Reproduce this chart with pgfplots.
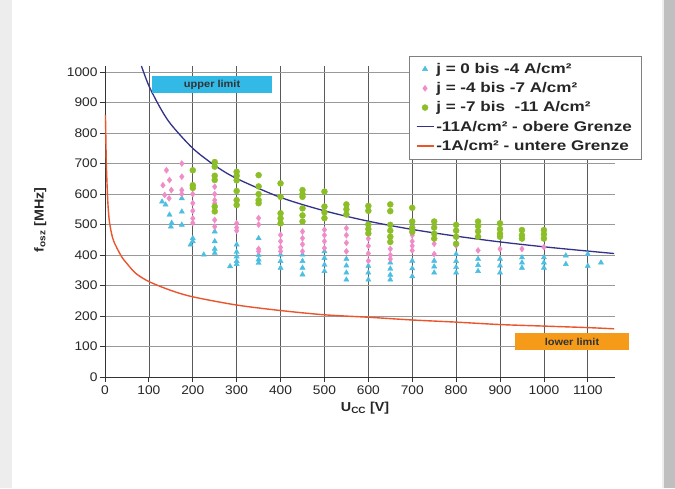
\documentclass[border=0pt]{standalone}
\usepackage{fontspec}
\setmainfont{Liberation Sans}[FakeStretch=1.1]
\newfontfamily\legfont{Liberation Sans}[FakeStretch=1.22]
\usepackage{pgfplots}
\pgfplotsset{compat=1.18}

\definecolor{cyanM}{RGB}{75,190,225}
\definecolor{pinkM}{RGB}{240,140,200}
\definecolor{greenM}{RGB}{140,190,40}
\definecolor{upperC}{RGB}{50,50,140}
\definecolor{lowerC}{RGB}{235,85,45}
\definecolor{upperBox}{RGB}{50,185,230}
\definecolor{lowerBox}{RGB}{245,155,25}

\begin{document}
\begin{tikzpicture}[x=1pt,y=1pt]
\useasboundingbox (0,0) rectangle (675,488);
\fill[black!7] (0,0) rectangle (675,488);
\fill[white] (12,0) rectangle (662,488);
\fill[black!25] (664,0) rectangle (675,488);

\begin{axis}[
    at={(105pt,111pt)}, anchor=south west,
    scale only axis,
    width=510pt, height=311pt,
    xmin=0, xmax=1162,
    ymin=0, ymax=1020,
    xtick={0,100,...,1100},
    ytick={0,100,...,1000},
    axis lines=left,
    axis line style={-, black!80, line width=0.8pt},
    tick align=outside,
    major tick length=5pt,
    tick style={black!80, line width=0.8pt},
    grid=major,
    x grid style={black!65, line width=0.7pt},
    y grid style={black!40, line width=1pt},
    ticklabel style={font=\fontsize{12.5}{14}\selectfont, text=black!85},
    yticklabel style={xshift=1pt},
    /pgf/number format/assume math mode=true,
    /pgf/number format/set thousands separator={},
    xlabel={U\textsubscript{CC} [V]},
    ylabel={f\textsubscript{osz} [MHz]},
    label style={font=\bfseries\fontsize{13}{15}\selectfont, text=black!85},
    xlabel style={at={(axis description cs:0.51,-0.1)}, anchor=center},
    ylabel style={at={(axis description cs:-0.127,0.505)}, anchor=center},
    clip=false,
    legend style={at={(1.051,1.032)}, anchor=north east, draw=black!50,
        fill=white, font=\legfont\bfseries\fontsize{14}{15.5}\selectfont,
        text=black!85, inner xsep=7pt, inner ysep=5pt, row sep=3.6pt},
    legend cell align=left,
]

% j = 0 bis -4 A/cm2
\addplot[only marks, mark=triangle*, mark size=3pt, color=cyanM] coordinates {
(130,575) (138,565) (147,532) (150,493) (152,505) (175,586) (175,542) (175,499)
(195,434) (200,455) (200,445) (225,401) (250,477) (250,445) (250,420) (250,407)
(285,363) (300,434) (300,410) (300,395) (300,380) (300,370)
(350,455) (350,400) (350,385) (350,374)
(400,401) (400,380) (400,358)
(450,401) (450,380) (450,358) (450,336)
(500,412) (500,390) (500,368) (500,347)
(550,387) (550,365) (550,342) (550,319)
(600,364) (600,342) (600,319)
(650,375) (650,355) (650,335) (650,319)
(700,381) (700,356) (700,330)
(750,381) (750,362) (750,342)
(800,403) (800,380) (800,360) (800,342)
(850,387) (850,367) (850,347)
(900,387) (900,365) (900,342)
(950,392) (950,375) (950,358)
(1000,392) (1000,375) (1000,358)
(1050,398) (1050,370)
(1100,403) (1100,364) (1130,375)
};
\addlegendentry{j = 0 bis -4 A/cm²}

% j = -4 bis -7 A/cm2
\addplot[only marks, mark=diamond*, mark size=3pt, color=pinkM] coordinates {
(140,678) (147,646) (132,629) (151,613) (136,597) (146,586)
(175,700) (175,657) (175,613) (175,600)
(200,600) (200,570) (200,545) (200,520) (200,505)
(250,624) (250,600) (250,580) (250,570) (250,515) (250,493)
(300,504) (300,490) (300,480)
(350,521) (350,500) (350,420) (350,412)
(400,466) (400,445) (400,425) (400,412)
(450,477) (450,455) (450,435) (450,412)
(500,483) (500,465) (500,445) (500,423)
(550,488) (550,465) (550,440) (550,412)
(600,454) (600,430) (600,405) (600,381)
(650,443) (650,420) (650,400) (650,387)
(700,465) (700,445) (700,430) (700,415)
(750,437) (750,403)
(800,431) (850,415) (900,420) (950,420) (1000,426)
};
\addlegendentry{j = -4 bis -7 A/cm²}

% j = -7 bis -11 A/cm2
\addplot[only marks, mark=*, mark size=3pt, color=greenM] coordinates {
(200,678) (200,629) (200,620)
(250,705) (250,690) (250,660) (250,646) (250,559) (250,543)
(300,673) (300,660) (300,645) (300,610) (300,580) (300,564)
(350,662) (350,625) (350,600) (350,580) (350,570)
(400,635) (400,591) (400,537) (400,520) (400,504)
(450,613) (450,600) (450,591) (450,553) (450,530) (450,510)
(500,608) (500,559) (500,540) (500,521)
(550,566) (550,550) (550,533)
(600,561) (600,545) (600,500) (600,485) (600,471)
(650,566) (650,544) (650,499) (650,480) (650,460) (650,443)
(700,555) (700,510) (700,490) (700,476)
(750,510) (750,490) (750,470) (750,454)
(800,499) (800,480) (800,460) (800,437)
(850,510) (850,495) (850,478) (850,460)
(900,504) (900,485) (900,470) (900,460)
(950,482) (950,465) (950,454)
(1000,482) (1000,468) (1000,454)
};
\addlegendentry{j = -7 bis\ \ -11 A/cm²}

% upper limit
\addplot[color=upperC, line width=1.3pt, smooth, no marks] coordinates {
(83,1020) (100,955) (125,885) (150,829) (200,750) (250,694) (300,651)
(400,589) (500,545) (600,511) (700,484) (800,462) (900,443) (1000,427)
(1100,413) (1160,405)
};
\addlegendentry{-11A/cm² - obere Grenze}

% lower limit
\addplot[color=lowerC, line width=1.4pt, smooth, no marks] coordinates {
(1,860) (2,780) (3,700) (5,620) (7,560) (10,510) (15,470) (20,445) (30,415)
(40,390) (50,372) (70,340) (100,313) (150,284) (200,263) (300,236) (400,218)
(500,204) (600,196) (700,187) (800,180) (900,172) (1000,167) (1100,162)
(1160,158)
};
\addlegendentry{-1A/cm² - untere Grenze}

\node[fill=upperBox, minimum width=120pt, minimum height=17pt, inner sep=0pt,
      font=\bfseries\fontsize{10}{12}\selectfont, text=black!80]
      at (axis cs:244,959) {upper limit};
\node[fill=lowerBox, minimum width=114pt, minimum height=17pt, inner sep=0pt,
      font=\bfseries\fontsize{10}{12}\selectfont, text=black!80]
      at (axis cs:1064,116) {lower limit};
\end{axis}
\end{tikzpicture}
\end{document}
